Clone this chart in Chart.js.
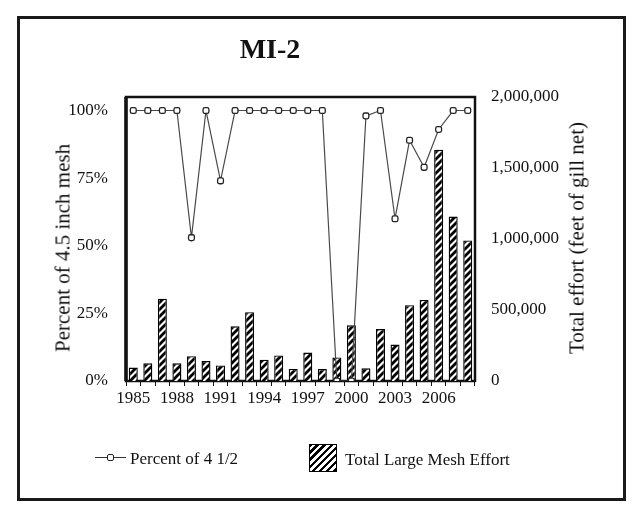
<!DOCTYPE html>
<html>
<head>
<meta charset="utf-8">
<script src="https://cdn.jsdelivr.net/npm/chart.js@4/dist/chart.umd.min.js"></script>
<style>
    html, body { margin: 0; padding: 0; background: #ffffff; }
    #wrap { position: relative; width: 634px; height: 514px; overflow: hidden; font-family: 'Liberation Serif', 'Times New Roman', serif; color: #111; }
    #frame { position: absolute; left: 17px; top: 16px; width: 603px; height: 479px; border: 3px solid #1a1a1a; }
    canvas { position: absolute; left: 0; top: 0; }
    .txt { position: absolute; white-space: nowrap; }
    #title { left: 270px; top: 49px; transform: translate(-50%, -50%); font-size: 28px; font-weight: bold; }
    #ytitle-left { left: 63px; top: 248px; transform: translate(-50%, -50%) rotate(-90deg); font-size: 21px; }
    #ytitle-right { left: 577px; top: 238px; transform: translate(-50%, -50%) rotate(-90deg); font-size: 21px; }
    .legend-text { font-size: 17px; transform: translateY(-50%); }
    #leg-line { position: absolute; left: 95px; top: 457px; width: 31px; height: 0; border-top: 1.5px solid #333; }
    #leg-dot { position: absolute; left: 107px; top: 454px; width: 5px; height: 5px; border: 1.3px solid #222; border-radius: 2px; background: #fff; }
    #leg-box { position: absolute; left: 309px; top: 444px; width: 26px; height: 26px; border: 1.5px solid #000;
        background: repeating-linear-gradient(-45deg, #000 0 2.6px, #fff 2.6px 5px); }
</style>
</head>
<body>
<div id="wrap">
    <div id="frame"></div>
    <canvas id="mesh-chart" width="634" height="514"></canvas>
    <div class="txt" id="title">MI-2</div>
    <div class="txt" id="ytitle-left">Percent of 4.5 inch mesh</div>
    <div class="txt" id="ytitle-right">Total effort (feet of gill net)</div>
    <div id="leg-line"></div>
    <div id="leg-dot"></div>
    <div class="txt legend-text" style="left:130px; top:459px;">Percent of 4 1/2</div>
    <div id="leg-box"></div>
    <div class="txt legend-text" style="left:345px; top:460px;">Total Large Mesh Effort</div>
</div>
<script>
const years = [1985, 1986, 1987, 1988, 1989, 1990, 1991, 1992, 1993, 1994, 1995, 1996,
    1997, 1998, 1999, 2000, 2001, 2002, 2003, 2004, 2005, 2006, 2007, 2008];

// percent of effort with 4 1/2 inch mesh
const percentMesh = [100, 100, 100, 100, 53, 100, 74, 100, 100, 100, 100, 100,
    100, 100, 0, 0, 98, 100, 60, 89, 79, 93, 100, 100];

// total large mesh effort, feet of gill net
const totalEffort = [95000, 125000, 580000, 125000, 175000, 140000, 110000, 385000, 485000, 150000, 180000, 85000,
    200000, 84000, 166000, 392000, 89000, 366000, 257000, 534000, 571000, 1628000, 1158000, 990000];

const yearTicks = [1985, 1988, 1991, 1994, 1997, 2000, 2003, 2006];
const percentTicks = [0, 25, 50, 75, 100];
const effortTicks = [0, 500000, 1000000, 1500000, 2000000];

const tickFont = { family: "'Liberation Serif', 'Times New Roman', serif", size: 17 };

function hatchPattern() {
    const size = 7;
    const tile = document.createElement('canvas');
    tile.width = size;
    tile.height = size;
    const ctx = tile.getContext('2d');
    ctx.fillStyle = '#ffffff';
    ctx.fillRect(0, 0, size, size);
    ctx.strokeStyle = '#000000';
    ctx.lineWidth = 2.8;
    ctx.beginPath();
    ctx.moveTo(-1, size + 1);
    ctx.lineTo(size + 1, -1);
    ctx.moveTo(-size / 2 - 1, size / 2 + 1);
    ctx.lineTo(size / 2 + 1, -size / 2 - 1);
    ctx.moveTo(size / 2 - 1, size * 1.5 + 1);
    ctx.lineTo(size * 1.5 + 1, size / 2 - 1);
    ctx.stroke();
    return ctx.createPattern(tile, 'repeat');
}

// plot box: left edge heavier, like the scan
const plotFrame = {
    id: 'plotFrame',
    beforeDatasetsDraw(chart) {
        const { ctx, chartArea: a } = chart;
        ctx.save();
        ctx.strokeStyle = '#111';
        ctx.lineWidth = 2.5;
        ctx.strokeRect(a.left, a.top, a.right - a.left, a.bottom - a.top);
        ctx.lineWidth = 3.5;
        ctx.beginPath();
        ctx.moveTo(a.left, a.top);
        ctx.lineTo(a.left, a.bottom);
        ctx.stroke();
        ctx.restore();
    },
};

new Chart(document.getElementById('mesh-chart'), {
    type: 'bar',
    data: {
        labels: years,
        datasets: [
            {
                type: 'line',
                label: 'Percent of 4 1/2',
                data: percentMesh,
                yAxisID: 'yPct',
                order: 0,
                borderColor: '#4a4a4a',
                borderWidth: 1.2,
                pointStyle: 'rectRounded',
                pointRadius: 3.4,
                pointBackgroundColor: '#ffffff',
                pointBorderColor: '#222',
                pointBorderWidth: 1.3,
                tension: 0,
            },
            {
                label: 'Total Large Mesh Effort',
                data: totalEffort,
                yAxisID: 'yEffort',
                order: 1,
                backgroundColor: hatchPattern(),
                borderColor: '#000',
                borderWidth: 1.4,
                barPercentage: 0.62,
                categoryPercentage: 1,
            },
        ],
    },
    options: {
        responsive: false,
        animation: false,
        layout: { padding: { top: 97, left: 0, right: 0, bottom: 0 } },
        plugins: {
            legend: { display: false },
            tooltip: { enabled: false },
        },
        scales: {
            x: {
                afterFit: (s) => { s.height = 133; },
                border: { display: false },
                grid: { drawOnChartArea: false, tickLength: 5, color: '#111', lineWidth: 1 },
                ticks: {
                    font: tickFont,
                    color: '#111',
                    padding: 2,
                    maxRotation: 0,
                    autoSkip: false,
                    callback: (v, i) => (yearTicks.includes(years[i]) ? String(years[i]) : ''),
                },
            },
            yPct: {
                position: 'left',
                min: 0,
                max: 105,
                afterFit: (s) => { s.width = 126; },
                afterBuildTicks: (s) => { s.ticks = percentTicks.map((v) => ({ value: v })); },
                border: { display: false },
                grid: { display: false },
                ticks: { font: tickFont, color: '#111', padding: 10, callback: (v) => v + '%' },
            },
            yEffort: {
                position: 'right',
                min: 0,
                max: 2000000,
                afterFit: (s) => { s.width = 159; },
                afterBuildTicks: (s) => { s.ticks = effortTicks.map((v) => ({ value: v })); },
                border: { display: false },
                grid: { display: false },
                ticks: { font: tickFont, color: '#111', padding: 8, callback: (v) => v.toLocaleString('en-US') },
            },
        },
    },
    plugins: [plotFrame],
});
</script>
</body>
</html>
